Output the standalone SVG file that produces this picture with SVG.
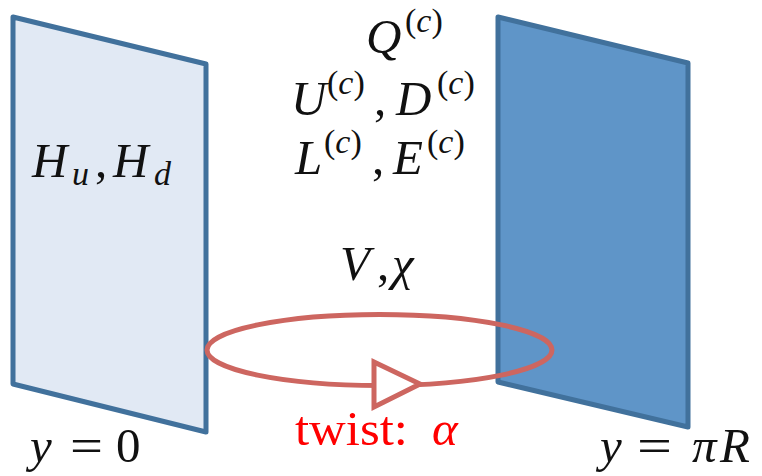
<svg xmlns="http://www.w3.org/2000/svg" width="762" height="476" viewBox="0 0 762 476">
<style>
.m{font-style:italic;font-size:49px;fill:#111}
.r{font-size:49px;fill:#111}
.s{font-size:34px;fill:#111}
.si{font-style:italic}
.red{font-size:49px;fill:#ff0000}
.panel{stroke:#41719c;stroke-width:5;stroke-linejoin:round}
</style>
<rect width="762" height="476" fill="#fff"/>
<g font-family="'Liberation Serif', 'DejaVu Serif', 'Times New Roman', serif">
<g id="brane-left">
<polygon class="panel" points="13,17 206,64 206,432 13,384" fill="#e1e9f4"/>
<text class="m" x="32" y="177">H</text>
<text class="s si" x="72" y="185">u</text>
<text class="r" x="95" y="177">,</text>
<text class="m" x="113" y="177">H</text>
<text class="s si" x="154" y="185">d</text>
</g>
<g id="brane-right">
<polygon class="panel" points="498,17 688,63 688,427 498,382" fill="#5f95c8"/>
</g>
<g id="bulk-fields">
<text class="m" x="366" y="53">Q</text>
<text class="s" x="405" y="32">(<tspan class="si">c</tspan>)</text>
<text class="m" x="291" y="115">U</text>
<text class="s" x="327" y="94">(<tspan class="si">c</tspan>)</text>
<text class="r" x="374" y="115">,</text>
<text class="m" x="396" y="115">D</text>
<text class="s" x="437" y="94">(<tspan class="si">c</tspan>)</text>
<text class="m" x="295" y="174">L</text>
<text class="s" x="324" y="153">(<tspan class="si">c</tspan>)</text>
<text class="r" x="372" y="174">,</text>
<text class="m" x="393" y="174">E</text>
<text class="s" x="427" y="153">(<tspan class="si">c</tspan>)</text>
<text class="m" x="340" y="280">V</text>
<text class="r" x="377" y="280">,</text>
<text class="m" x="392" y="280">χ</text>
</g>
<g id="connectors">
<ellipse cx="379.5" cy="350" rx="172.5" ry="35.5" fill="none" stroke="#cd6660" stroke-width="5"/>
<polygon points="374,362 420,384 374,407" fill="#fff" stroke="#cd6660" stroke-width="5" stroke-linejoin="miter"/>
</g>
<g id="twist-label">
<text class="red" x="295" y="445" textLength="113" lengthAdjust="spacingAndGlyphs">twist:</text>
<text class="red" x="432" y="445" font-style="italic">α</text>
</g>
<g id="label-y0">
<text class="m" x="30" y="462">y</text>
<text class="r" x="70" y="462" textLength="33" lengthAdjust="spacingAndGlyphs">=</text>
<text class="r" x="116" y="462">0</text>
</g>
<g id="label-ypiR">
<text class="m" x="600" y="462">y</text>
<text class="r" x="637" y="462" textLength="35" lengthAdjust="spacingAndGlyphs">=</text>
<text class="m" x="692" y="462">π</text>
<text class="m" x="720" y="462">R</text>
</g>
</g>
</svg>
